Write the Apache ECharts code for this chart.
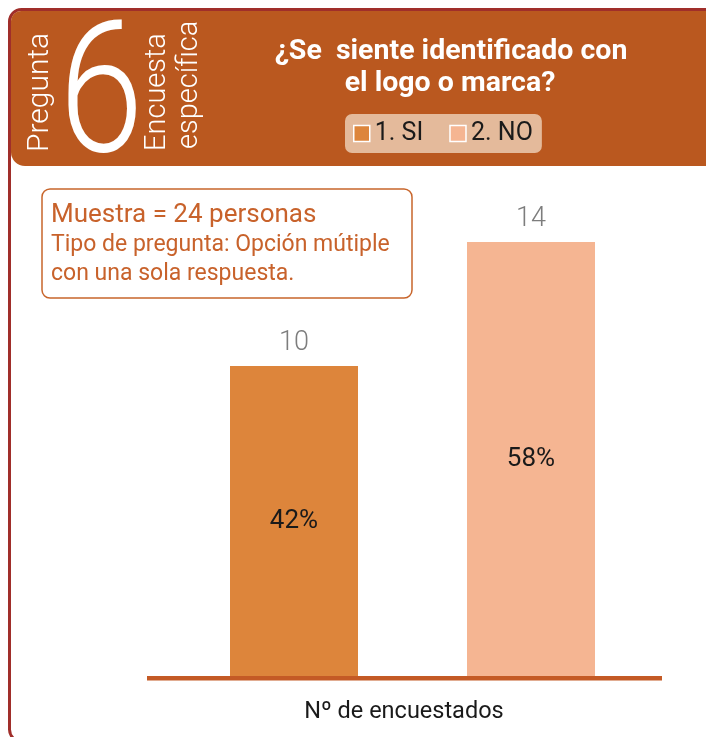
<!DOCTYPE html>
<html lang="es">
<head>
<meta charset="UTF-8">
<title>Pregunta 6</title>
<script src="https://cdn.jsdelivr.net/npm/echarts@6/dist/echarts.min.js"></script>
<style>
  html, body { margin: 0; padding: 0; background: #fff; }
  #main { width: 706px; height: 737px; }
</style>
</head>
<body>
<div id="main"></div>
<script>
// datos
var categories = ['1. SI', '2. NO'];
var counts = [10, 14];
var pctLabels = ['42%', '58%'];
var barColors = ['#DD853B', '#F5B592'];

var FONT = 'Roboto';

var chart = echarts.init(document.getElementById('main'));

// una serie por categoria para que salga en la leyenda
var catSeries = categories.map(function (name, i) {
    return {
        name: name,
        type: 'bar',
        barWidth: 128,
        barGap: '-100%',
        data: counts.map(function (v, j) { return j === i ? v : '-'; }),
        itemStyle: { color: barColors[i] },
        label: {
            show: true, position: 'top', distance: 9,
            color: '#7d7d7d', fontSize: 27, fontWeight: 300, fontFamily: FONT
        }
    };
});

// serie transparente solo para los porcentajes
var pctSeries = {
    name: 'pct',
    type: 'bar',
    barWidth: 128,
    barGap: '-100%',
    data: counts,
    itemStyle: { color: 'rgba(0,0,0,0)' },
    label: {
        show: true, position: 'inside',
        formatter: function (p) { return pctLabels[p.dataIndex]; },
        color: '#1a1a1a', fontSize: 26, fontFamily: FONT
    },
    silent: true
};

chart.setOption({
    animation: false,
    textStyle: { fontFamily: FONT },
    legend: {
        data: categories,
        left: 345, top: 114,
        backgroundColor: '#E4BA9B',
        borderRadius: 7,
        padding: [7, 9, 7, 8],
        icon: 'rect',
        itemWidth: 16, itemHeight: 16, itemGap: 26,
        itemStyle: { borderColor: '#fff', borderWidth: 1.5 },
        textStyle: { fontSize: 25, color: '#1a1a1a', fontFamily: FONT }
    },
    grid: { left: 175.5, right: 56.5, top: 180, bottom: 61 },
    xAxis: {
        type: 'category',
        data: categories,
        axisLine: { show: false },
        axisTick: { show: false },
        axisLabel: { show: false }
    },
    yAxis: {
        type: 'value', min: 0, max: 16,
        show: false,
        splitLine: { show: false }
    },
    graphic: [
        // marco
        { type: 'rect', z: -10, shape: { x: 9.5, y: 9.5, width: 740, height: 732, r: 12 },
          style: { fill: '#fff', stroke: '#A02E2A', lineWidth: 3 } },
        // cabecera
        { type: 'rect', z: -5, shape: { x: 11, y: 11, width: 720, height: 155, r: [10, 0, 0, 14] },
          style: { fill: '#BA581F' } },
        { type: 'text', z: 5, x: 40, y: 152, rotation: Math.PI / 2,
          style: { text: 'Pregunta', fill: '#fff', fontSize: 30, fontWeight: 300, fontFamily: FONT,
                   align: 'left', verticalAlign: 'middle' } },
        { type: 'text', z: 5, x: 101, y: 105, scaleX: 0.83,
          style: { text: '6', fill: '#fff', fontSize: 184, fontWeight: 300, fontFamily: FONT,
                   align: 'center', verticalAlign: 'middle' } },
        { type: 'text', z: 5, x: 158, y: 151, rotation: Math.PI / 2,
          style: { text: 'Encuesta', fill: '#fff', fontSize: 29, fontWeight: 300, fontFamily: FONT,
                   align: 'left', verticalAlign: 'middle' } },
        { type: 'text', z: 5, x: 190, y: 149, rotation: Math.PI / 2,
          style: { text: 'específica', fill: '#fff', fontSize: 29, fontWeight: 300, fontFamily: FONT,
                   align: 'left', verticalAlign: 'middle' } },
        { type: 'text', z: 5, x: 451, y: 52,
          style: { text: '¿Se  siente identificado con', fill: '#fff', fontSize: 28.5, fontWeight: 'bold',
                   fontFamily: FONT, align: 'center', verticalAlign: 'middle' } },
        { type: 'text', z: 5, x: 450, y: 84,
          style: { text: 'el logo o marca?', fill: '#fff', fontSize: 28.5, fontWeight: 'bold',
                   fontFamily: FONT, align: 'center', verticalAlign: 'middle' } },
        // caja de muestra
        { type: 'rect', z: 1, shape: { x: 42, y: 189, width: 370, height: 109, r: 8 },
          style: { fill: '#fff', stroke: '#C8652B', lineWidth: 1.5 } },
        { type: 'text', z: 5, x: 51, y: 215,
          style: { text: 'Muestra = 24 personas', fill: '#C8622B', fontSize: 26, fontFamily: FONT,
                   verticalAlign: 'middle' } },
        { type: 'text', z: 5, x: 51, y: 245,
          style: { text: 'Tipo de pregunta: Opción mútiple', fill: '#C8622B', fontSize: 23, fontFamily: FONT,
                   verticalAlign: 'middle' } },
        { type: 'text', z: 5, x: 51, y: 274,
          style: { text: 'con una sola respuesta.', fill: '#C8622B', fontSize: 23, fontFamily: FONT,
                   verticalAlign: 'middle' } },
        // eje
        { type: 'rect', z: 5, shape: { x: 147, y: 676, width: 515, height: 4.5 },
          style: { fill: '#C45A25' } },
        { type: 'text', z: 5, x: 404, y: 712,
          style: { text: 'Nº de encuestados', fill: '#1a1a1a', fontSize: 23.5, fontFamily: FONT,
                   align: 'center', verticalAlign: 'middle' } }
    ],
    series: catSeries.concat([pctSeries])
});
</script>
</body>
</html>
